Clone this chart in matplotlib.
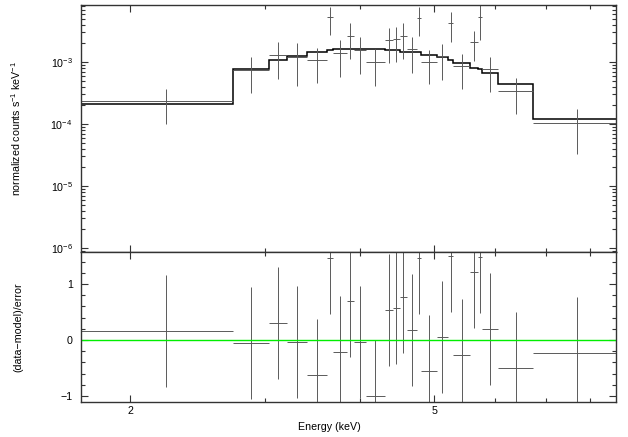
import numpy as np
import matplotlib
matplotlib.use("Agg")
import matplotlib.pyplot as plt
from matplotlib.ticker import FixedLocator, NullFormatter, LogLocator, MultipleLocator, FixedFormatter

plt.rcParams['font.family'] = ['Liberation Sans', 'DejaVu Sans']
plt.rcParams['mathtext.fontset'] = 'custom'
plt.rcParams['mathtext.rm'] = 'Liberation Sans'
plt.rcParams['mathtext.it'] = 'Liberation Sans:italic'
plt.rcParams['font.size'] = 7.7

# channel bin edges (keV)
edges = [1.725, 2.730, 3.035, 3.211, 3.404, 3.615, 3.681, 3.840, 3.926, 4.069,
         4.309, 4.410, 4.509, 4.601, 4.742, 4.799, 5.037, 5.215, 5.295, 5.568,
         5.709, 5.769, 6.065, 6.744, 8.650]
# unfolded data and 1-sigma errors (counts/s/keV)
data = [2.33e-4, 7.55e-4, 1.305e-3, 1.22e-3, 1.058e-3, 5.26e-3, 1.421e-3, 2.67e-3,
        1.572e-3, 1.009e-3, 2.26e-3, 2.32e-3, 2.66e-3, 1.59e-3, 5.21e-3, 9.9e-4,
        1.232e-3, 4.23e-3, 8.47e-4, 2.10e-3, 5.39e-3, 7.58e-4, 3.44e-4, 1.04e-4]
err = [1.34e-4, 4.35e-4, 7.73e-4, 8.09e-4, 6.05e-4, 2.54e-3, 8.42e-4, 1.54e-3,
       9.3e-4, 5.94e-4, 1.31e-3, 1.31e-3, 1.55e-3, 9.16e-4, 2.59e-3, 5.48e-4,
       7.19e-4, 2.10e-3, 4.84e-4, 1.06e-3, 3.13e-3, 4.33e-4, 1.99e-4, 7.1e-5]
# folded model
model = [2.125e-4, 7.80e-4, 1.077e-3, 1.25e-3, 1.434e-3, 1.561e-3, 1.602e-3, 1.602e-3,
         1.602e-3, 1.602e-3, 1.561e-3, 1.561e-3, 1.466e-3, 1.434e-3, 1.434e-3, 1.297e-3,
         1.191e-3, 1.077e-3, 9.74e-4, 8.09e-4, 7.63e-4, 6.72e-4, 4.42e-4, 1.204e-4]

edges = np.array(edges)
data = np.array(data)
err = np.array(err)
model = np.array(model)
lo = edges[:-1]
hi = edges[1:]
xc = 0.5 * (lo + hi)
xerr = [xc - lo, hi - xc]
resid = (data - model) / err

fig = plt.figure(figsize=(6.28, 4.37), dpi=100)
ax1 = fig.add_axes([0.129, 0.4233, 0.852, 0.5653])
ax2 = fig.add_axes([0.129, 0.0801, 0.852, 0.3432], sharex=ax1)

dcol = '#5a5a5a'
ax1.errorbar(xc, data, xerr=xerr, yerr=err, fmt='none', ecolor=dcol, elinewidth=0.7, capsize=0)
ax1.stairs(model, edges, baseline=None, color='black', lw=1.1)
ax1.set_xscale('log')
ax1.set_yscale('log')
ax1.set_xlim(edges[0], edges[-1])
ax1.set_ylim(8.62e-7, 8.3e-3)
ax1.yaxis.set_major_locator(LogLocator(base=10, numticks=10))
ax1.yaxis.set_minor_locator(LogLocator(base=10, subs=np.arange(2, 10), numticks=20))
ax1.yaxis.set_minor_formatter(NullFormatter())
ax1.set_ylabel(r'normalized counts s$^{-1}$ keV$^{-1}$')
ax1.yaxis.set_label_coords(-0.108, 0.5)
plt.setp(ax1.get_xticklabels(), visible=False)

ax2.errorbar(xc, resid, xerr=xerr, yerr=1.0, fmt='none', ecolor=dcol, elinewidth=0.7, capsize=0)
ax2.axhline(0, color='#00ee00', lw=1.0)
ax2.set_ylim(-1.107, 1.571)
ax2.yaxis.set_major_locator(FixedLocator([-1, 0, 1]))
ax2.yaxis.set_minor_locator(MultipleLocator(0.2))
ax2.set_ylabel('(data\u2212model)/error')
ax2.yaxis.set_label_coords(-0.108, 0.5)
ax2.set_xlabel('Energy (keV)')
ax2.xaxis.set_label_coords(0.465, -0.135)

ax2.xaxis.set_major_locator(FixedLocator([2, 5]))
ax2.xaxis.set_major_formatter(FixedFormatter(['2', '5']))
ax2.xaxis.set_minor_locator(FixedLocator([3, 4, 6, 7, 8]))
ax2.xaxis.set_minor_formatter(NullFormatter())

for ax in (ax1, ax2):
    ax.tick_params(which='both', direction='in', top=True, right=True, color='#333333', width=0.8)
    ax.tick_params(which='major', length=5, pad=3)
    ax.tick_params(which='minor', length=3)
    ax.tick_params(axis='y', which='major', pad=6)
    for s in ax.spines.values():
        s.set_linewidth(1.0)
        s.set_color('#333333')

fig.savefig('out.png', dpi=100)
